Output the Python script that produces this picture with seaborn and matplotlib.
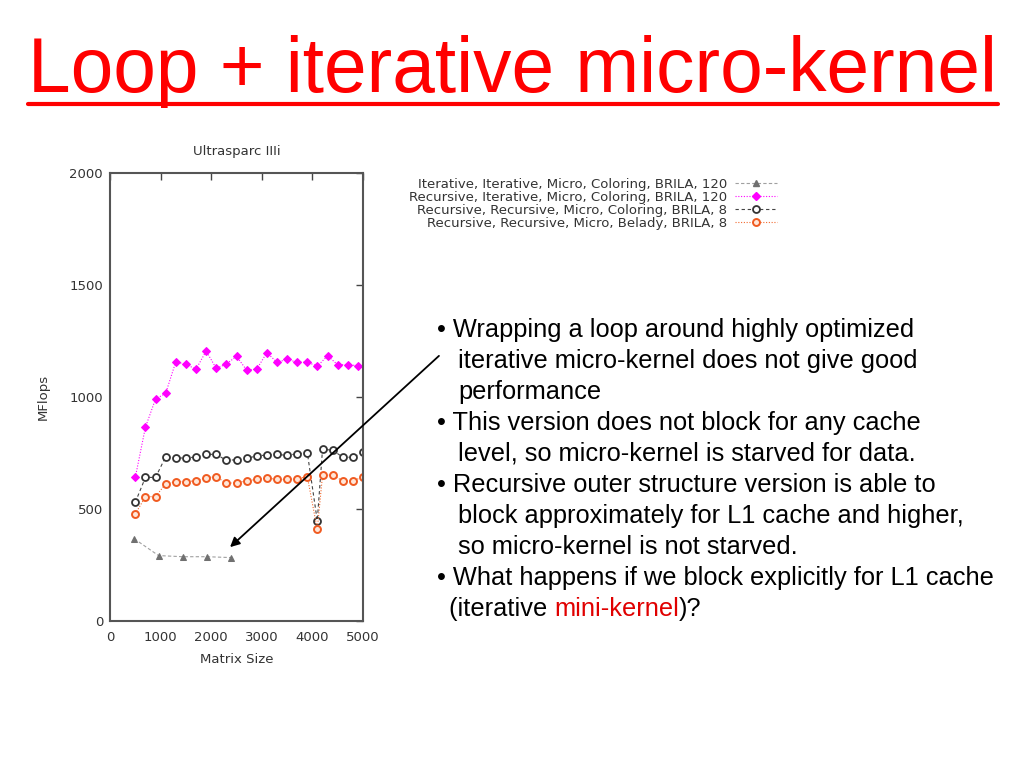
import matplotlib
matplotlib.use("Agg")
import matplotlib.pyplot as plt
from matplotlib.lines import Line2D
import seaborn as sns

# Ultrasparc IIIi measurements (MFlops vs matrix size)
sizes_iter = [480, 960, 1440, 1920, 2400]
mflops_iter = [367, 292, 287, 287, 283]

sizes_rec_iter = [500, 700, 900, 1100, 1300, 1500, 1700, 1900, 2100, 2300, 2500, 2700,
                  2900, 3100, 3300, 3500, 3700, 3900, 4100, 4300, 4500, 4700, 4900]
mflops_rec_iter = [641, 865, 991, 1016, 1157, 1146, 1124, 1205, 1128, 1147, 1182, 1120,
                   1124, 1198, 1155, 1168, 1155, 1155, 1138, 1184, 1144, 1144, 1140]

sizes_brila8 = [500, 700, 900, 1100, 1300, 1500, 1700, 1900, 2100, 2300, 2500, 2700,
                2900, 3100, 3300, 3500, 3700, 3900, 4096, 4200, 4400, 4600, 4800, 5000]
mflops_coloring8 = [530, 641, 641, 733, 726, 729, 731, 744, 744, 717, 720, 726,
                    737, 741, 744, 739, 747, 751, 448, 766, 763, 731, 731, 753]
mflops_belady8 = [478, 555, 555, 612, 622, 622, 626, 640, 644, 615, 617, 626,
                  632, 638, 632, 632, 635, 644, 409, 650, 652, 625, 625, 644]

series_labels = [
    "Iterative, Iterative, Micro, Coloring, BRILA, 120",
    "Recursive, Iterative, Micro, Coloring, BRILA, 120",
    "Recursive, Recursive, Micro, Coloring, BRILA, 8",
    "Recursive, Recursive, Micro, Belady, BRILA, 8",
]

bullet_lines = [
    ("\u2022 Wrapping a loop around highly optimized", 437),
    ("iterative micro-kernel does not give good", 458),
    ("performance", 458),
    ("\u2022 This version does not block for any cache", 437),
    ("level, so micro-kernel is starved for data.", 458),
    ("\u2022 Recursive outer structure version is able to", 437),
    ("block approximately for L1 cache and higher,", 458),
    ("so micro-kernel is not starved.", 458),
    ("\u2022 What happens if we block explicitly for L1 cache", 437),
]

sns.set_theme(style="white")
plt.rcParams['font.family'] = ['Liberation Sans', 'DejaVu Sans']
chart_font = "DejaVu Sans"
chart_grey = "#333333"

W, H = 1024, 768
fig = plt.figure(figsize=(W / 100, H / 100), dpi=100)
fig.patch.set_facecolor("white")
ax = fig.add_axes([110 / W, 1 - 621 / H, 253 / W, 448 / H])

styles = [
    dict(color="#a0a0a0", linestyle=(0, (3, 2)), marker="^", markersize=5,
         markerfacecolor="#707070", markeredgecolor="#707070"),
    dict(color="#ff00ff", linestyle=(0, (1, 1.5)), marker="D", markersize=4,
         markerfacecolor="#ff00ff", markeredgecolor="#ff00ff"),
    dict(color="#444444", linestyle=(0, (3, 2.5)), marker="o", markersize=5,
         markerfacecolor="white", markeredgecolor="#333333", markeredgewidth=1.3),
    dict(color="#f26a30", linestyle=(0, (1, 1.5)), marker="o", markersize=5,
         markerfacecolor="#ffe6d8", markeredgecolor="#f05a20", markeredgewidth=1.4),
]
data = [(sizes_iter, mflops_iter), (sizes_rec_iter, mflops_rec_iter),
        (sizes_brila8, mflops_coloring8), (sizes_brila8, mflops_belady8)]

for (xs, ys), st in zip(data, styles):
    sns.lineplot(x=xs, y=ys, ax=ax, linewidth=0.8, **st)

ax.set_xlim(0, 5000)
ax.set_ylim(0, 2000)
ax.set_xticks([0, 1000, 2000, 3000, 4000, 5000])
ax.set_yticks([0, 500, 1000, 1500, 2000])
ax.tick_params(direction="in", length=5, width=1, top=True, right=True,
               labelsize=9.5, labelcolor=chart_grey, color="#444444", pad=5)
ax.tick_params(axis="x", pad=7)
for lab in ax.get_xticklabels() + ax.get_yticklabels():
    lab.set_family(chart_font)
for sp in ax.spines.values():
    sp.set_linewidth(1.5)
    sp.set_color("#555555")
ax.set_title("Ultrasparc IIIi", fontsize=9.5, pad=13, color=chart_grey,
             family=chart_font)
ax.set_xlabel("Matrix Size", fontsize=9.5, labelpad=7, color=chart_grey,
              family=chart_font)
ax.set_ylabel("MFlops", fontsize=9.5, labelpad=14, color=chart_grey,
              family=chart_font)

handles = [Line2D([], [], linewidth=0.8, **st) for st in styles]
leg = fig.legend(handles, series_labels, loc="upper right",
                 bbox_to_anchor=(777 / W, 1 - 178 / H), frameon=False,
                 markerfirst=False, handlelength=3.2,
                 handletextpad=0.6, labelspacing=0.0, borderpad=0,
                 borderaxespad=0, prop={"family": chart_font, "size": 9.5})
for t in leg.get_texts():
    t.set_color(chart_grey)

# slide title with underline
fig.text(28 / W, 1 - 92 / H, "Loop + iterative micro-kernel", color="red",
         fontsize=55.2, va="baseline",
         family=["Liberation Sans Narrow", "Liberation Sans"])
fig.add_artist(Line2D([28 / W, 998 / W], [1 - 104 / H, 1 - 104 / H],
                      color="red", linewidth=3, transform=fig.transFigure))

# bullet text
fs = 18.3
for i, (line, x) in enumerate(bullet_lines):
    fig.text(x / W, 1 - (337 + 31 * i) / H, line, fontsize=fs, va="baseline",
             color="black")

y_last = 1 - (337 + 31 * 9) / H
renderer = fig.canvas.get_renderer()
t1 = fig.text(449 / W, y_last, "(iterative ", fontsize=fs, va="baseline",
              color="black")
x1 = t1.get_window_extent(renderer).x1
t2 = fig.text(x1 / W, y_last, "mini-kernel", fontsize=fs, va="baseline",
              color="#e00000")
x2 = t2.get_window_extent(renderer).x1
fig.text(x2 / W, y_last, ")?", fontsize=fs, va="baseline", color="black")

# arrow from text to iterative curve
ax.annotate("", xy=(228, H - 549), xycoords="figure pixels",
            xytext=(441, H - 354), textcoords="figure pixels",
            arrowprops=dict(arrowstyle="-|>", color="black", lw=1.3,
                            mutation_scale=14))

fig.savefig("out.png", dpi=100, facecolor="white")
